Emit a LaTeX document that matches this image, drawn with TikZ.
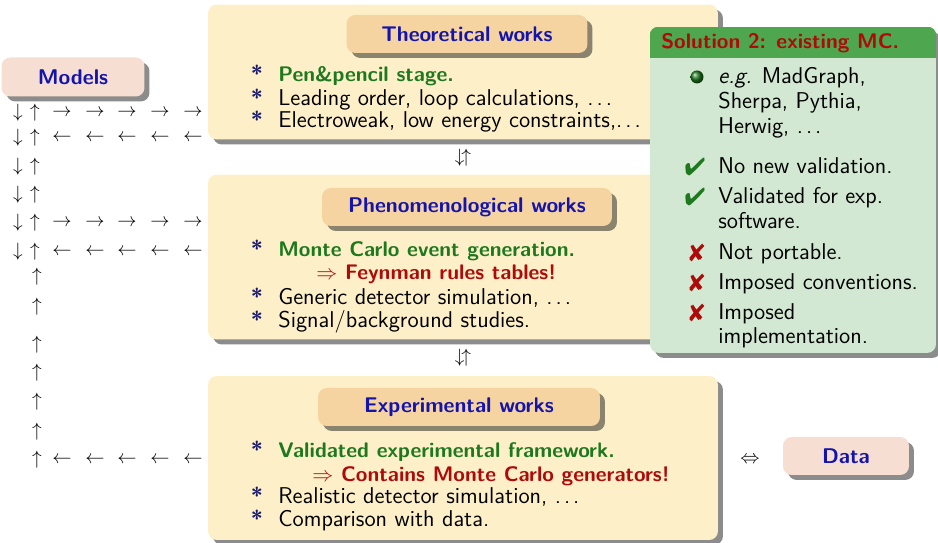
\documentclass[tikz,border=0pt]{standalone}
\usepackage{amsmath,amssymb}
\usepackage{pifont}
\usepackage{tikz}
\usepackage{xcolor}
\usetikzlibrary{positioning,calc,shadows}

\definecolor{boxfill}{RGB}{253,240,200}
\definecolor{titlefill}{RGB}{246,212,162}
\definecolor{endfill}{RGB}{246,222,210}
\definecolor{titleblue}{RGB}{20,20,170}
\definecolor{itemgreen}{RGB}{30,120,30}
\definecolor{itemred}{RGB}{175,10,10}
\definecolor{starblue}{RGB}{25,25,110}
\definecolor{solhead}{RGB}{78,166,78}
\definecolor{solbody}{RGB}{210,232,210}

\newcommand\ddd{.\kern.13em.\kern.13em.}

\begin{document}
\begin{tikzpicture}[
  x=0.02cm, y=-0.02cm,
  font=\sffamily\fontsize{13}{15}\selectfont,
  shad/.style={drop shadow={shadow xshift=0.1cm, shadow yshift=-0.1cm, opacity=0.45, fill=black}},
  work/.style={fill=boxfill, rounded corners=5pt, minimum width=10.2cm, shad},
  head/.style={fill=titlefill, rounded corners=5pt, minimum height=0.76cm, font=\sffamily\bfseries\fontsize{12.1}{15}\selectfont, text=titleblue, shad},
  ends/.style={fill=endfill, rounded corners=5pt, minimum height=0.78cm, font=\sffamily\bfseries\fontsize{12.1}{15}\selectfont, text=titleblue, shad},
  itm/.style={anchor=mid west, inner sep=0pt, yshift=-1.3pt},
  hot/.style={itm, font=\sffamily\bfseries\fontsize{12}{15}\selectfont},
  star/.style={anchor=mid, text=starblue, inner sep=0pt, yshift=-1.3pt, font=\sffamily\bfseries\fontsize{12.5}{15}\selectfont},
  arw/.style={inner sep=0pt, font=\fontsize{10.5}{13}\selectfont},
  tick/.style={inner sep=0pt, font=\fontsize{14}{15}\selectfont}
]
  \useasboundingbox (0,0) rectangle (938,543);

  % Models and the way back
  \node[ends, minimum width=2.86cm] (models) at (73,77) {Models};
  \foreach \yy [count=\i] in {113,138,167,195,223,252} {
    \node[arw] (dn\i) at (18,\yy) {$\downarrow$};
    \node[arw] (up\i) at (35,\yy) {$\uparrow$};
  }
  \foreach \yy [count=\i from 7] in {277,307,345,373,402,432,460}
    \node[arw] (up\i) at (37,\yy) {$\uparrow$};
  \foreach \xx [count=\j] in {62,95,127,160,193} {
    \node[arw] (ra\j) at (\xx,113) {$\rightarrow$};
    \node[arw] (la\j) at (\xx,138) {$\leftarrow$};
    \node[arw] (rb\j) at (\xx,223) {$\rightarrow$};
    \node[arw] (lb\j) at (\xx,252) {$\leftarrow$};
    \node[arw] (lc\j) at (\xx,460) {$\leftarrow$};
  }

  % Theoretical works
  \node[work, minimum height=2.7cm] (theo) at (463,72) {};
  \node[head, minimum width=4.82cm] (theoh) at (467,34) {Theoretical works};
  \foreach \yy in {75,99,121} \node[star] at (257,\yy) {*};
  \node[hot, text=itemgreen] (t1) at (278,75) {Pen\&pencil stage.};
  \node[itm] (t2) at (278,99) {Leading order, loop calculations, \ddd};
  \node[itm] (t3) at (278,121) {Electroweak, low energy constraints,\ddd};

  \node[arw] (tp) at (463,158) {$\downarrow\!\uparrow$};

  % Phenomenological works
  \node[work, minimum height=3.3cm] (pheno) at (463,257) {};
  \node[head, minimum width=5.8cm] (phenoh) at (467,207) {Phenomenological works};
  \foreach \yy in {250,298,321} \node[star] at (257,\yy) {*};
  \node[hot, text=itemgreen] (p1) at (278,250) {Monte Carlo event generation.};
  \node[hot, text=itemred] (p2) at (316,273) {$\Rightarrow$ Feynman rules tables!};
  \node[itm] (p3) at (278,298) {Generic detector simulation, \ddd};
  \node[itm] (p4) at (278,321) {Signal/background studies.};

  \node[arw] (pe) at (463,358) {$\downarrow\!\uparrow$};

  % Experimental works
  \node[work, minimum height=3.28cm] (expt) at (463,458) {};
  \node[head, minimum width=5.64cm] (expth) at (459,407) {Experimental works};
  \foreach \yy in {451,497,520} \node[star] at (257,\yy) {*};
  \node[hot, text=itemgreen] (e1) at (278,451) {Validated experimental framework.};
  \node[hot, text=itemred] (e2) at (312,475) {$\Rightarrow$ Contains Monte Carlo generators!};
  \node[itm] (e3) at (278,497) {Realistic detector simulation, \ddd};
  \node[itm] (e4) at (278,520) {Comparison with data.};

  % Data
  \node[arw] (eq) at (750,460) {$\Leftrightarrow$};
  \node[ends, minimum width=2.52cm, minimum height=0.76cm] (data) at (846,456) {Data};

  % Solution 2
  \node[fill=solbody, rounded corners=5pt, minimum width=5.72cm, minimum height=6.52cm, shad] (sol) at (793,190) {};
  \begin{scope}
    \clip[rounded corners=5pt] (sol.north west) rectangle (sol.south east);
    \fill[solhead] (sol.north west) rectangle ([yshift=-0.62cm]sol.north east);
  \end{scope}
  \node[hot, text=itemred] (solt) at (661,42) {Solution 2: existing MC.};
  \node[circle, inner sep=0pt, minimum size=0.26cm, ball color=itemgreen] (b1) at (697,77) {};
  \node[itm] (s1) at (718,77) {\textit{e.g.} MadGraph,};
  \node[itm] (s2) at (718,102) {Sherpa, Pythia,};
  \node[itm] (s3) at (718,127) {Herwig, \ddd};
  \node[tick, text=itemgreen] (c1) at (695,167) {\ding{52}};
  \node[itm] (s4) at (718,167) {No new validation.};
  \node[tick, text=itemgreen] (c2) at (695,197) {\ding{52}};
  \node[itm] (s5) at (718,197) {Validated for exp.};
  \node[itm] (s6) at (718,222) {software.};
  \node[tick, text=itemred] (x1) at (697,253) {\ding{56}};
  \node[itm] (s7) at (718,253) {Not portable.};
  \node[tick, text=itemred] (x2) at (697,283) {\ding{56}};
  \node[itm] (s8) at (718,283) {Imposed conventions.};
  \node[tick, text=itemred] (x3) at (697,313) {\ding{56}};
  \node[itm] (s9) at (718,313) {Imposed};
  \node[itm] (s10) at (718,337) {implementation.};
\end{tikzpicture}
\end{document}
